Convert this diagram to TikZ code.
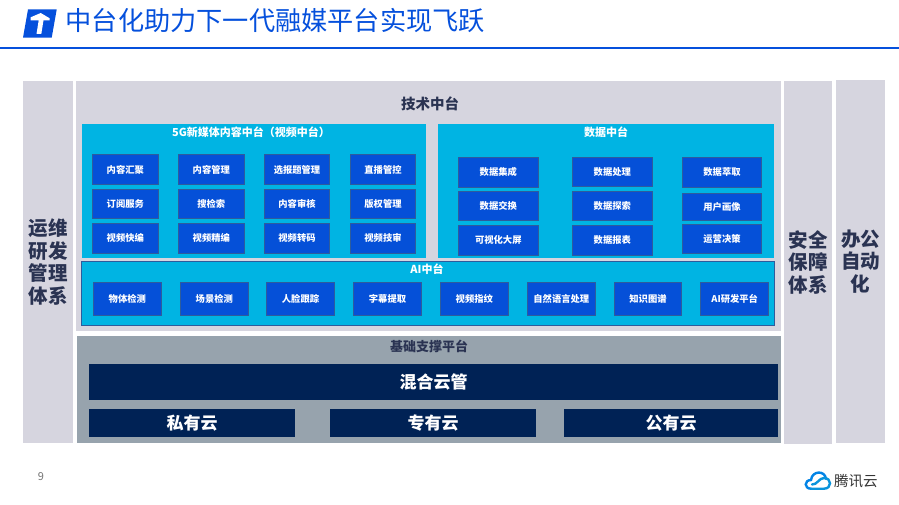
\documentclass[tikz,border=0pt]{standalone}
\usepackage{fontspec}
\setmainfont{Noto Sans CJK SC}
\definecolor{titleblue}{HTML}{0550DC}
\definecolor{panelgray}{HTML}{D6D5DF}
\definecolor{panelcyan}{HTML}{00B4E3}
\definecolor{boxblue}{HTML}{0550D8}
\definecolor{boxline}{HTML}{2E5C9C}
\definecolor{basegray}{HTML}{97A3AD}
\definecolor{cloudnavy}{HTML}{002255}
\definecolor{darktext}{HTML}{2A3352}
\tikzset{
    panel/.style={fill=panelgray, inner sep=0pt, text=darktext, font=\bfseries\fontsize{19.5}{22.5}\selectfont, align=center},
    headlabel/.style={inner sep=0pt, text=darktext, font=\bfseries\fontsize{14.5}{16}\selectfont},
    cyanlabel/.style={inner sep=0pt, text=white, font=\bfseries\fontsize{11}{13}\selectfont},
    bluebox/.style={draw=boxline, line width=1pt, fill=boxblue, text=white, inner sep=0pt, minimum width=65.5pt, minimum height=29pt, font=\bfseries\fontsize{9.3}{11}\selectfont},
    databox/.style={bluebox, minimum width=79.5pt},
    aibox/.style={bluebox, minimum width=67.5pt, minimum height=32.5pt},
    navybox/.style={fill=cloudnavy, text=white, inner sep=0pt, minimum height=28pt, font=\bfseries\fontsize{17}{20}\selectfont}
}
\begin{document}
\begin{tikzpicture}[x=1pt, y=-1pt]
    \useasboundingbox (0,0) rectangle (899,505);

    % Titel
    \fill[titleblue] (28,9.5) -- (56.7,9.5) -- (51.7,37.7) -- (23,37.7) -- cycle;
    \fill[white] (40.7,13) -- (49.7,18.3) -- (49.7,20.3) -- (43.5,20.3) -- (41.3,34) -- (36.5,34) -- (38.7,20.3) -- (30.7,20.3) -- (30.7,17.3) -- cycle;
    \node[inner sep=0pt, anchor=west, text=titleblue, font=\fontsize{26.2}{28}\selectfont] (title) at (65.5,21) {中台化助力下一代融媒平台实现飞跃};
    \draw[titleblue, line width=2pt] (0,48.5) -- (899,48.5);

    % Zijkolommen
    \node[panel, minimum width=50pt, minimum height=362pt] (ops) at (48,262) {运维\\研发\\管理\\体系};
    \node[panel, minimum width=48pt, minimum height=363pt] (safe) at (808,262.5) {安全\\保障\\体系};
    \node[panel, minimum width=49pt, minimum height=363pt] (office) at (860.5,261.5) {办公\\自动\\化};

    % Technisch platform
    \fill[panelgray] (76,81) rectangle (781,331);
    \node[headlabel] (tech) at (430,104) {技术中台};

    % 5G platform
    \fill[panelcyan] (82,124) rectangle (426,258);
    \node[cyanlabel] (media) at (251,132) {5G新媒体内容中台（视频中台）};
    \node[bluebox, minimum height=30pt] (m11) at (125.3,169.5) {内容汇聚};
    \node[bluebox, minimum height=30pt] (m12) at (211.3,169.5) {内容管理};
    \node[bluebox, minimum height=30pt] (m13) at (297,169.5) {选报题管理};
    \node[bluebox, minimum height=30pt] (m14) at (383,169.5) {直播管控};
    \node[bluebox] (m21) at (125.3,204) {订阅服务};
    \node[bluebox] (m22) at (211.3,204) {搜检索};
    \node[bluebox] (m23) at (297,204) {内容审核};
    \node[bluebox] (m24) at (383,204) {版权管理};
    \node[bluebox, minimum height=30pt] (m31) at (125.3,238.3) {视频快编};
    \node[bluebox, minimum height=30pt] (m32) at (211.3,238.3) {视频精编};
    \node[bluebox, minimum height=30pt] (m33) at (297,238.3) {视频转码};
    \node[bluebox, minimum height=30pt] (m34) at (383,238.3) {视频技审};

    % Dataplatform
    \fill[panelcyan] (438,124) rectangle (774,258);
    \node[cyanlabel] (data) at (606,132) {数据中台};
    \node[databox, minimum height=30pt] (d11) at (498.3,172.3) {数据集成};
    \node[databox] (d12) at (612.3,171.8) {数据处理};
    \node[databox, minimum height=30pt] (d13) at (722,172.3) {数据萃取};
    \node[databox] (d21) at (498.3,205.8) {数据交换};
    \node[databox] (d22) at (612.3,205.8) {数据探索};
    \node[databox, minimum height=27pt] (d23) at (722,207) {用户画像};
    \node[databox, minimum height=30pt] (d31) at (498.3,240.3) {可视化大屏};
    \node[databox, minimum height=30pt] (d32) at (612.3,240.3) {数据报表};
    \node[databox] (d33) at (722,238.8) {运营决策};

    % AI platform
    \filldraw[draw=boxline, line width=1pt, fill=panelcyan] (81.5,261.5) rectangle (774.5,325.5);
    \node[cyanlabel] (ai) at (427,269) {AI中台};
    \node[aibox] (a1) at (127.3,299) {物体检测};
    \node[aibox] (a2) at (214.3,299) {场景检测};
    \node[aibox] (a3) at (300.5,299) {人脸跟踪};
    \node[aibox] (a4) at (387.5,299) {字幕提取};
    \node[aibox] (a5) at (474.3,299) {视频指纹};
    \node[aibox] (a6) at (561.3,299) {自然语言处理};
    \node[aibox] (a7) at (648,299) {知识图谱};
    \node[aibox] (a8) at (734.7,299) {AI研发平台};

    % Basisplatform
    \fill[basegray] (77,336) rectangle (781,443);
    \node[headlabel, font=\bfseries\fontsize{13}{15}\selectfont] (base) at (429,346) {基础支撑平台};
    \node[navybox, minimum width=689pt, minimum height=36pt] (hybrid) at (433.5,382) {混合云管};
    \node[navybox, minimum width=206pt] (private) at (192,423) {私有云};
    \node[navybox, minimum width=206pt] (dedicated) at (433,423) {专有云};
    \node[navybox, minimum width=214pt] (public) at (671,423) {公有云};

    % Voettekst
    \node[inner sep=0pt, text=black!55, font=\fontsize{11}{13}\selectfont] (page) at (41,477) {9};
    \draw[line width=2.4pt, color=titleblue!70!cyan, line cap=round] (811,488.7) .. controls (804,488.7) and (804,480) .. (811,480) .. controls (812,470.5) and (825,470) .. (826,479);
    \draw[line width=2.4pt, color=cyan!80!blue, line cap=round] (811,488.7) -- (824,488.7) .. controls (832,488.7) and (832,478) .. (824,478) .. controls (819,478) and (817,485) .. (812,484.5);
    \node[inner sep=0pt, anchor=west, text=black!80, font=\fontsize{14.5}{16}\selectfont] (brand) at (834,481.5) {腾讯云};
\end{tikzpicture}
\end{document}
